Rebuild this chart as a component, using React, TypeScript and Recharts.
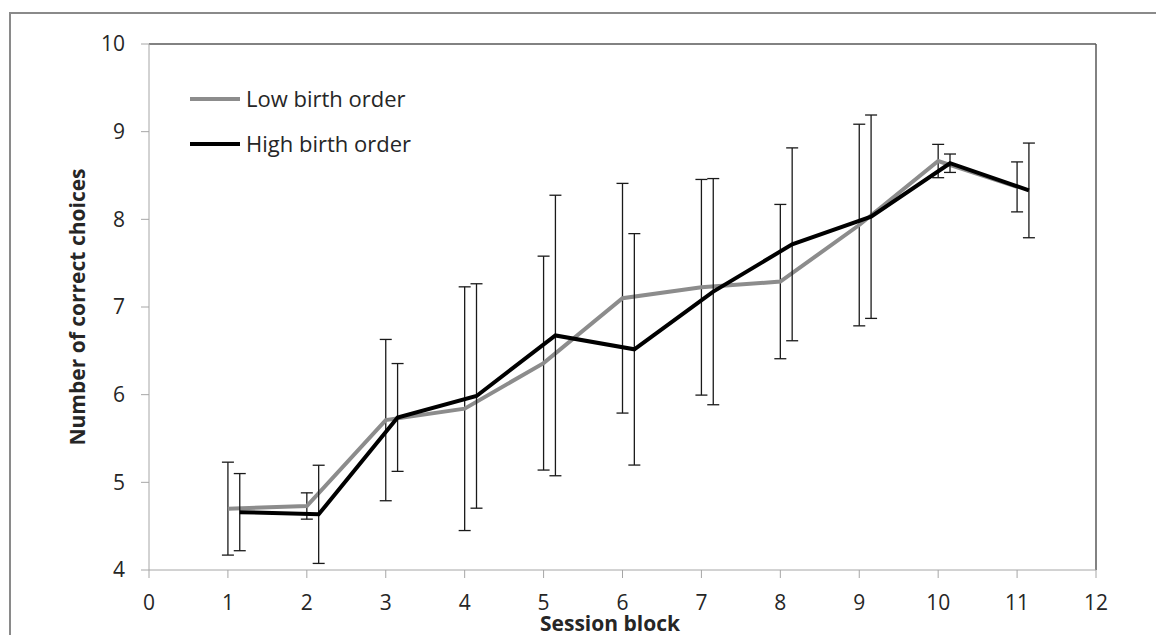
import React from 'react';
import { LineChart, Line, XAxis, YAxis, ErrorBar, Legend, ReferenceLine } from 'recharts';

const sessionBlocks = [1, 2, 3, 4, 5, 6, 7, 8, 9, 10, 11];
const lowMean = [4.70, 4.73, 5.71, 5.84, 6.36, 7.10, 7.225, 7.29, 7.935, 8.665, 8.37];
const lowErr = [0.53, 0.15, 0.92, 1.39, 1.22, 1.31, 1.23, 0.88, 1.15, 0.19, 0.285];
const highMean = [4.66, 4.635, 5.74, 5.985, 6.675, 6.517, 7.175, 7.715, 8.03, 8.64, 8.33];
const highErr = [0.44, 0.56, 0.615, 1.28, 1.6, 1.32, 1.29, 1.1, 1.16, 0.105, 0.54];
const xTicks = [0, 1, 2, 3, 4, 5, 6, 7, 8, 9, 10, 11, 12];
const yTicks = [4, 5, 6, 7, 8, 9, 10];
const seriesNames = ['Low birth order', 'High birth order'];
const seriesColors = ['#8c8c8c', '#000000'];
const HIGH_OFFSET = 0.15;

const lowData = sessionBlocks.map((b, i) => ({ x: b, mean: lowMean[i], err: lowErr[i] }));
const highData = sessionBlocks.map((b, i) => ({ x: b + HIGH_OFFSET, mean: highMean[i], err: highErr[i] }));

const FONT = '"Open Sans", sans-serif';
const TEXT = '#262626';

const LegendBox = () => (
  <svg width={320} height={80} style={{ display: 'block' }}>
    {seriesNames.map((n, i) => (
      <g key={n}>
        <line x1={0} x2={50} y1={20 + i * 45} y2={20 + i * 45} stroke={seriesColors[i]} strokeWidth={4} />
        <text x={56} y={20 + i * 45} dy="0.355em" fontFamily={FONT} fontSize={22} fill={TEXT}>{n}</text>
      </g>
    ))}
  </svg>
);

const YLabel = (props: any) => {
  const vb = props.viewBox || { x: 0, y: 0, width: 0, height: 0 };
  const cx = 77;
  const cy = vb.y + vb.height / 2;
  return (
    <text x={cx} y={cy} transform={`rotate(-90, ${cx}, ${cy})`} textAnchor="middle" fontFamily={FONT} fontWeight="bold" fontSize={21} fill={TEXT}>
      Number of correct choices
    </text>
  );
};

const XLabel = () => (
  <text x={602} y={623} textAnchor="middle" fontFamily={FONT} fontWeight="bold" fontSize={21} fill={TEXT}>
    Session block
  </text>
);

export default function App() {
  return (
    <div style={{ position: 'fixed', left: 0, top: 0, width: 1156, height: 635, overflow: 'hidden', background: '#fff' }}>
      <div style={{ position: 'absolute', left: 9, top: 12, width: 1300, height: 800, borderLeft: '2px solid #8a8a8a', borderTop: '2px solid #8a8a8a', boxSizing: 'border-box' }} />
      <div style={{ position: 'absolute', left: 8, top: 8 }}>
        <LineChart width={1148} height={627} margin={{ top: 36, right: 60, bottom: 0, left: 0 }}>
          <XAxis
            type="number"
            dataKey="x"
            domain={[0, 12]}
            ticks={xTicks}
            interval={0}
            height={65}
            tickSize={8}
            tickMargin={17}
            stroke="#a6a6a6"
            tick={{ fill: TEXT, fontSize: 21, fontFamily: FONT }}
            label={<XLabel />}
            allowDataOverflow
          />
          <YAxis
            type="number"
            domain={[4, 10]}
            ticks={yTicks}
            interval={0}
            width={141}
            tickSize={8}
            tickMargin={16}
            stroke="#a6a6a6"
            tick={{ fill: TEXT, fontSize: 21, fontFamily: FONT }}
            label={<YLabel />}
            allowDataOverflow
          />
          <ReferenceLine y={10} stroke="#595959" strokeWidth={1.5} />
          <ReferenceLine x={12} stroke="#595959" strokeWidth={1.5} />
          <Legend layout="vertical" align="center" verticalAlign="middle" content={<LegendBox />}
            wrapperStyle={{ position: 'absolute', left: 182, top: 71, width: 320, height: 80 }} />
          <Line data={lowData} dataKey="mean" name={seriesNames[0]} stroke={seriesColors[0]} strokeWidth={4} dot={false} isAnimationActive={false}>
            <ErrorBar dataKey="err" width={6} stroke="#1a1a1a" strokeWidth={1.3} direction="y" isAnimationActive={false} />
          </Line>
          <Line data={highData} dataKey="mean" name={seriesNames[1]} stroke={seriesColors[1]} strokeWidth={4} dot={false} isAnimationActive={false}>
            <ErrorBar dataKey="err" width={6} stroke="#1a1a1a" strokeWidth={1.3} direction="y" isAnimationActive={false} />
          </Line>
        </LineChart>
      </div>
    </div>
  );
}
